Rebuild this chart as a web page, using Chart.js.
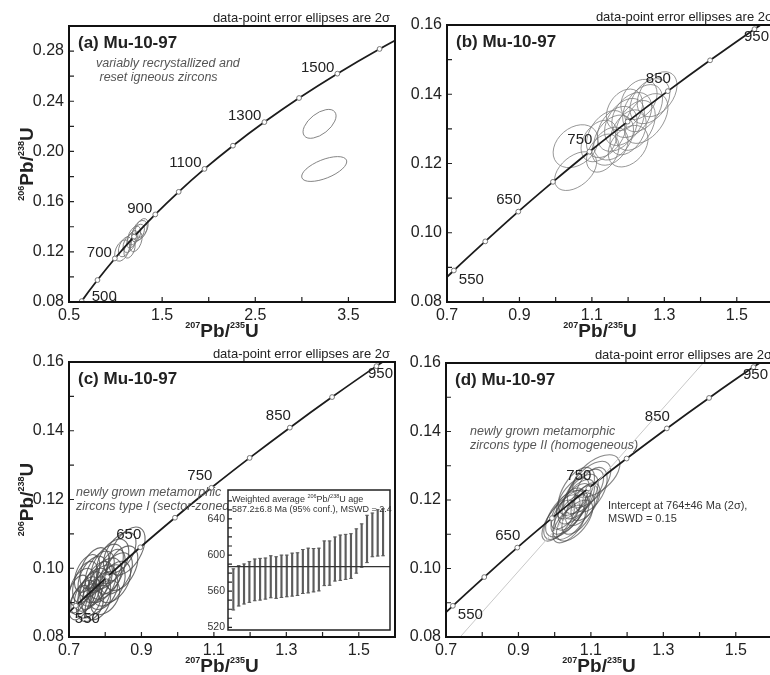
<!DOCTYPE html>
<html>
<head>
<meta charset="utf-8">
<title>Mu-10-97 U-Pb concordia diagrams</title>
<script src="https://cdn.jsdelivr.net/npm/chart.js@4.4.1/dist/chart.umd.min.js"></script>
<style>
  html, body { margin: 0; padding: 0; background: #fff; }
  #fig { position: relative; width: 770px; height: 675px; overflow: hidden; background: #fff; }
  #fig canvas { position: absolute; }
</style>
</head>
<body>
<div id="fig">
  <canvas id="pa" width="400" height="345" style="left:0px;top:0px"></canvas>
  <canvas id="pb" width="400" height="345" style="left:385px;top:0px"></canvas>
  <canvas id="pc" width="400" height="345" style="left:0px;top:330px"></canvas>
  <canvas id="pd" width="400" height="345" style="left:385px;top:330px"></canvas>
  <canvas id="pin" width="205" height="150" style="left:190px;top:485px"></canvas>
</div>
<script>
// ---------- concordia reference points (age in Ma, 207Pb/235U, 206Pb/238U) ----------
const agesWide = [400, 500, 600, 700, 800, 900, 1000, 1100, 1200, 1300, 1400, 1500, 1600, 1700];
const concXWide = [0.4828, 0.6363, 0.8056, 0.9925, 1.1987, 1.4263, 1.6774, 1.9545, 2.2603, 2.5977, 2.9701, 3.3810, 3.8344, 4.3348];
const concYWide = [0.0640, 0.0807, 0.0975, 0.1147, 0.1321, 0.1498, 0.1678, 0.1861, 0.2046, 0.2234, 0.2426, 0.2620, 0.2817, 0.3018];
const agesWideLabelled = [500, 700, 900, 1100, 1300, 1500];

const agesNarrow = [500, 550, 600, 650, 700, 750, 800, 850, 900, 950, 1000];
const concXNarrow = [0.6363, 0.7189, 0.8056, 0.8968, 0.9925, 1.0931, 1.1987, 1.3097, 1.4263, 1.5488, 1.6774];
const concYNarrow = [0.0807, 0.0891, 0.0975, 0.1061, 0.1147, 0.1234, 0.1321, 0.1409, 0.1498, 0.1588, 0.1678];
const agesNarrowLabelled = [550, 650, 750, 850, 950];

// ---------- tick labels ----------
const xTickLabelsWide = [0.5, 1.5, 2.5, 3.5];
const yTickLabelsWide = [0.08, 0.12, 0.16, 0.20, 0.24, 0.28];
const xTickLabelsNarrow = [0.7, 0.9, 1.1, 1.3, 1.5];
const yTickLabelsNarrow = [0.08, 0.10, 0.12, 0.14, 0.16];
const insetTickLabels = [520, 560, 600, 640];

// ---------- analyses: [207/235, 206/238, 2s half-width x, 2s half-width y, error correlation] ----------
const ellipsesA = [
  [1.07, 0.1210, 0.080, 0.0085, 0.40],
  [1.10, 0.1240, 0.070, 0.0080, 0.45],
  [1.15, 0.1270, 0.070, 0.0075, 0.45],
  [1.15, 0.1220, 0.060, 0.0070, 0.40],
  [1.18, 0.1300, 0.060, 0.0070, 0.50],
  [1.20, 0.1330, 0.070, 0.0075, 0.45],
  [1.22, 0.1280, 0.065, 0.0080, 0.45],
  [1.24, 0.1350, 0.070, 0.0070, 0.45],
  [1.26, 0.1370, 0.080, 0.0080, 0.40],
  [1.28, 0.1390, 0.070, 0.0075, 0.40],
  [3.19, 0.2220, 0.177, 0.0115, 0.55],
  [3.24, 0.1860, 0.242, 0.0099, 0.60]
];
const ellipsesB = [
  [1.055, 0.1250, 0.062, 0.0062, 0.30],
  [1.055, 0.1178, 0.058, 0.0056, 0.45],
  [1.120, 0.1265, 0.050, 0.0060, 0.35],
  [1.140, 0.1285, 0.055, 0.0068, 0.40],
  [1.160, 0.1275, 0.055, 0.0065, 0.35],
  [1.170, 0.1300, 0.055, 0.0065, 0.35],
  [1.150, 0.1250, 0.050, 0.0055, 0.30],
  [1.190, 0.1320, 0.055, 0.0068, 0.40],
  [1.200, 0.1290, 0.050, 0.0065, 0.40],
  [1.210, 0.1340, 0.055, 0.0065, 0.35],
  [1.220, 0.1310, 0.055, 0.0072, 0.40],
  [1.240, 0.1360, 0.055, 0.0068, 0.40],
  [1.250, 0.1330, 0.060, 0.0072, 0.45],
  [1.260, 0.1380, 0.055, 0.0065, 0.35],
  [1.280, 0.1400, 0.055, 0.0065, 0.40],
  [1.190, 0.1355, 0.050, 0.0060, 0.30],
  [1.230, 0.1385, 0.050, 0.0058, 0.30],
  [1.130, 0.1230, 0.045, 0.0055, 0.35],
  [1.200, 0.1250, 0.055, 0.0060, 0.35]
];
const ellipsesC = [
  [0.860, 0.1050, 0.050, 0.0070, 0.50],
  [0.845, 0.1000, 0.045, 0.0065, 0.45],
  [0.830, 0.0985, 0.045, 0.0060, 0.45],
  [0.815, 0.0990, 0.040, 0.0065, 0.50],
  [0.800, 0.0970, 0.045, 0.0060, 0.45],
  [0.790, 0.0955, 0.040, 0.0055, 0.45],
  [0.780, 0.0960, 0.040, 0.0060, 0.50],
  [0.770, 0.0945, 0.040, 0.0055, 0.45],
  [0.760, 0.0935, 0.035, 0.0055, 0.45],
  [0.750, 0.0925, 0.035, 0.0050, 0.45],
  [0.740, 0.0915, 0.035, 0.0050, 0.50],
  [0.730, 0.0900, 0.030, 0.0050, 0.45],
  [0.755, 0.0905, 0.035, 0.0050, 0.40],
  [0.775, 0.0920, 0.040, 0.0055, 0.40],
  [0.795, 0.0935, 0.040, 0.0055, 0.40],
  [0.810, 0.0950, 0.045, 0.0060, 0.45],
  [0.825, 0.0960, 0.045, 0.0060, 0.45],
  [0.765, 0.0975, 0.040, 0.0060, 0.45],
  [0.745, 0.0960, 0.035, 0.0060, 0.45],
  [0.735, 0.0945, 0.035, 0.0055, 0.45],
  [0.785, 0.0990, 0.040, 0.0060, 0.45],
  [0.805, 0.1005, 0.045, 0.0065, 0.45],
  [0.840, 0.1045, 0.045, 0.0060, 0.50],
  [0.760, 0.0890, 0.035, 0.0045, 0.40],
  [0.780, 0.0900, 0.035, 0.0050, 0.40],
  [0.800, 0.0915, 0.040, 0.0050, 0.40],
  [0.725, 0.0925, 0.030, 0.0055, 0.45],
  [0.750, 0.0985, 0.035, 0.0055, 0.45],
  [0.820, 0.1020, 0.045, 0.0065, 0.45],
  [0.770, 0.1000, 0.040, 0.0060, 0.45]
];
const ellipsesD = [
  [1.115, 0.1270, 0.065, 0.0062, 0.55],
  [1.095, 0.1245, 0.060, 0.0068, 0.60],
  [1.080, 0.1225, 0.055, 0.0065, 0.60],
  [1.070, 0.1210, 0.050, 0.0065, 0.60],
  [1.060, 0.1195, 0.050, 0.0065, 0.65],
  [1.050, 0.1180, 0.050, 0.0068, 0.65],
  [1.040, 0.1165, 0.050, 0.0065, 0.65],
  [1.030, 0.1160, 0.055, 0.0068, 0.60],
  [1.045, 0.1150, 0.050, 0.0065, 0.60],
  [1.055, 0.1140, 0.050, 0.0060, 0.60],
  [1.020, 0.1150, 0.050, 0.0065, 0.65],
  [1.035, 0.1175, 0.045, 0.0060, 0.65],
  [1.065, 0.1160, 0.045, 0.0060, 0.60],
  [1.075, 0.1185, 0.045, 0.0060, 0.60],
  [1.050, 0.1205, 0.045, 0.0060, 0.60],
  [1.010, 0.1140, 0.045, 0.0060, 0.65],
  [1.085, 0.1195, 0.040, 0.0055, 0.55],
  [1.100, 0.1230, 0.045, 0.0065, 0.50],
  [1.060, 0.1225, 0.050, 0.0070, 0.55],
  [1.040, 0.1130, 0.045, 0.0055, 0.60]
];

// discordia through the type II analyses
const discordiaX = [0.739, 1.410];
const discordiaY = [0.080, 0.160];

// weighted-average plot: 206Pb/238U ages with 2s error bars
const spotNo = [1, 2, 3, 4, 5, 6, 7, 8, 9, 10, 11, 12, 13, 14, 15, 16, 17, 18, 19, 20, 21, 22, 23, 24, 25, 26, 27, 28, 29];
const spotAgeLow = [539.2, 543.6, 545.8, 547.6, 549.4, 550.1, 551.2, 552.7, 552.0, 553.0, 553.8, 554.5, 555.2, 557.4, 558.1, 559.2, 560.3, 566.1, 566.5, 571.2, 571.9, 573.0, 574.1, 579.9, 586.5, 591.6, 598.1, 598.9, 599.2];
const spotAgeHigh = [584.7, 588.3, 590.1, 592.7, 595.6, 596.3, 596.7, 599.2, 598.1, 599.9, 599.9, 602.1, 602.5, 606.1, 607.6, 607.2, 607.6, 615.6, 615.6, 620.0, 622.1, 622.9, 623.6, 629.0, 634.5, 644.0, 646.5, 650.2, 651.2];
const meanAge = 587.2;

// ---------- drawing helpers ----------
const FAM = "'Liberation Sans', Arial, Helvetica, sans-serif";
Chart.defaults.font.family = FAM;
Chart.defaults.color = '#222';
Chart.defaults.animation = false;

const ISO_X = [['207', 1], ['Pb/', 0], ['235', 1], ['U', 0]];
const ISO_Y = [['206', 1], ['Pb/', 0], ['238', 1], ['U', 0]];

function isoText(ctx, parts, x, y, big, small) {
  const fb = `bold ${big}px ${FAM}`, fs = `bold ${small}px ${FAM}`;
  const widths = parts.map(p => { ctx.font = p[1] ? fs : fb; return ctx.measureText(p[0]).width; });
  const total = widths.reduce((s, w) => s + w, 0);
  let cx = x - total / 2;
  ctx.textAlign = 'left';
  ctx.textBaseline = 'alphabetic';
  parts.forEach((p, i) => {
    ctx.font = p[1] ? fs : fb;
    ctx.fillText(p[0], cx, p[1] ? y - big * 0.47 : y);
    cx += widths[i];
  });
}

function labelFilter(list, digits) {
  return v => list.some(t => Math.abs(t - v) < 1e-6) ? Number(v).toFixed(digits) : '';
}

function drawEllipses(chart, list, colour, width) {
  const { ctx, chartArea: a, scales: { x: xs, y: ys } } = chart;
  ctx.save();
  ctx.beginPath();
  ctx.rect(a.left, a.top, a.right - a.left, a.bottom - a.top);
  ctx.clip();
  ctx.strokeStyle = colour;
  ctx.lineWidth = width;
  list.forEach(([x, y, sx, sy, rho]) => {
    const cx = xs.getPixelForValue(x), cy = ys.getPixelForValue(y);
    const px = xs.getPixelForValue(x + sx) - cx;
    const py = ys.getPixelForValue(y + sy) - cy;
    const cxx = px * px, cyy = py * py, cxy = rho * px * py;
    const m = (cxx + cyy) / 2;
    const d = Math.sqrt(((cxx - cyy) / 2) ** 2 + cxy * cxy);
    const r1 = Math.sqrt(m + d), r2 = Math.sqrt(Math.max(m - d, 0.25));
    const th = 0.5 * Math.atan2(2 * cxy, cxx - cyy);
    ctx.beginPath();
    ctx.ellipse(cx, cy, r1, r2, th, 0, Math.PI * 2);
    ctx.stroke();
  });
  ctx.restore();
}

function inwardTicks(chart, len, axes) {
  const { ctx, chartArea: a, scales } = chart;
  ctx.save();
  ctx.strokeStyle = '#222';
  ctx.lineWidth = 1.2;
  ctx.beginPath();
  if (axes.includes('x')) {
    scales.x.ticks.forEach(t => {
      const p = scales.x.getPixelForValue(t.value);
      if (p > a.left + 2 && p < a.right - 2) { ctx.moveTo(p, a.bottom); ctx.lineTo(p, a.bottom - len); }
    });
  }
  if (axes.includes('y')) {
    scales.y.ticks.forEach(t => {
      const p = scales.y.getPixelForValue(t.value);
      if (p > a.top + 2 && p < a.bottom - 2) { ctx.moveTo(a.left, p); ctx.lineTo(a.left + len, p); }
    });
  }
  ctx.stroke();
  ctx.restore();
}

function panelDecor(o) {
  return {
    id: 'panelDecor',
    beforeDatasetsDraw(chart) {
      drawEllipses(chart, o.ellipses, o.ellColour, o.ellWidth);
    },
    afterDatasetsDraw(chart) {
      const { ctx, scales: { x: xs, y: ys } } = chart;
      ctx.save();
      ctx.font = `15px ${FAM}`;
      ctx.fillStyle = '#222';
      ctx.textBaseline = 'middle';
      o.labelled.forEach(age => {
        const i = o.ages.indexOf(age);
        const px = xs.getPixelForValue(o.cx[i]), py = ys.getPixelForValue(o.cy[i]);
        const p = o.place(age);
        ctx.textAlign = p[0];
        ctx.fillText(String(age), px + p[1], py + p[2]);
      });
      ctx.restore();
    },
    afterDraw(chart) {
      const { ctx, chartArea: a } = chart;
      inwardTicks(chart, 5, 'xy');
      ctx.save();
      ctx.strokeStyle = '#111';
      ctx.lineWidth = 2;
      ctx.strokeRect(a.left, a.top, a.right - a.left, a.bottom - a.top);

      // header note
      ctx.fillStyle = '#222';
      ctx.font = `13px ${FAM}`;
      ctx.textAlign = 'right';
      ctx.textBaseline = 'alphabetic';
      ctx.fillText('data-point error ellipses are 2\u03c3', a.right - o.headInset, a.top - 4);

      // panel title
      ctx.font = `bold 17px ${FAM}`;
      ctx.textAlign = 'left';
      ctx.textBaseline = 'middle';
      ctx.fillText(o.title, a.left + 9, a.top + 17);

      // italic annotation
      if (o.note) {
        ctx.fillStyle = '#555';
        ctx.font = `italic 12.5px ${FAM}`;
        o.note.lines.forEach((t, k) => ctx.fillText(t, a.left + o.note.dx, a.top + o.note.dy + k * 13.5));
      }
      // intercept result
      if (o.result) {
        ctx.fillStyle = '#333';
        ctx.font = `11px ${FAM}`;
        o.result.lines.forEach((t, k) => ctx.fillText(t, a.left + o.result.dx, a.top + o.result.dy + k * 12.5));
      }

      // axis titles
      ctx.fillStyle = '#222';
      isoText(ctx, ISO_X, (a.left + a.right) / 2 - 10, a.bottom + 35, 19, 9);
      if (o.yTitle) {
        ctx.translate(a.left - 36, (a.top + a.bottom) / 2);
        ctx.rotate(-Math.PI / 2);
        isoText(ctx, ISO_Y, 0, 0, 19, 9);
      }
      ctx.restore();
    }
  };
}

function concordiaPanel(o) {
  const datasets = [];
  if (o.discordia) {
    datasets.push({
      data: o.discordia.x.map((v, i) => ({ x: v, y: o.discordia.y[i] })),
      showLine: true, borderColor: '#c8c8c8', borderWidth: 1, pointRadius: 0, clip: 0
    });
  }
  datasets.push({
    data: o.ages.map((a, i) => ({ x: o.cx[i], y: o.cy[i] })),
    showLine: true, borderColor: '#1c1c1c', borderWidth: 1.8, cubicInterpolationMode: 'monotone',
    pointRadius: 2.4, pointBackgroundColor: '#fff', pointBorderColor: '#777', pointBorderWidth: 1, clip: 0
  });
  return new Chart(document.getElementById(o.id), {
    type: 'scatter',
    data: { datasets },
    options: {
      responsive: false, animation: false, devicePixelRatio: 1,
      events: [],
      layout: { padding: { left: 0, top: o.padTop, right: o.padRight, bottom: 0 } },
      plugins: { legend: { display: false }, tooltip: { enabled: false } },
      scales: {
        x: {
          type: 'linear', min: o.x.min, max: o.x.max,
          grid: { display: false, drawTicks: false }, border: { display: false },
          ticks: { stepSize: o.x.step, autoSkip: false, includeBounds: false, maxRotation: 0, padding: 4,
                   font: { size: 16 }, color: '#222', callback: labelFilter(o.x.labels, o.x.digits) },
          afterFit: s => { s.height = o.xh; }
        },
        y: {
          type: 'linear', min: o.y.min, max: o.y.max,
          grid: { display: false, drawTicks: false }, border: { display: false },
          ticks: { stepSize: o.y.step, autoSkip: false, includeBounds: false, padding: 5,
                   font: { size: 16 }, color: '#222', callback: labelFilter(o.y.labels, o.y.digits) },
          afterFit: s => { s.width = o.yw; }
        }
      }
    },
    plugins: [panelDecor(o)]
  });
}

const placeWide = age => age === 500 ? ['left', 10, -4] : ['right', -3, -6];
const placeNarrow = age => {
  if (age === 550) return ['left', 5, 9];
  if (age === 950) return ['center', 2, 8];
  return ['right', 3, -12];
};
const placeNarrowC = age => {
  if (age === 550) return ['left', -1, 13];
  if (age === 950) return ['center', 4, 8];
  return ['right', 1, -12];
};

const wideX = { min: 0.5, max: 4.0, step: 0.5, labels: xTickLabelsWide, digits: 1 };
const wideY = { min: 0.08, max: 0.30, step: 0.02, labels: yTickLabelsWide, digits: 2 };
const narrowX = { min: 0.7, max: 1.6, step: 0.1, labels: xTickLabelsNarrow, digits: 1 };
const narrowY = { min: 0.08, max: 0.16, step: 0.01, labels: yTickLabelsNarrow, digits: 2 };

// (a) variably recrystallized zircons
concordiaPanel({
  id: 'pa', x: wideX, y: wideY, yw: 69, xh: 43, padTop: 26, padRight: 5, headInset: 5,
  ages: agesWide, cx: concXWide, cy: concYWide, labelled: agesWideLabelled, place: placeWide,
  ellipses: ellipsesA, ellColour: 'rgba(120,120,120,0.9)', ellWidth: 1,
  title: '(a) Mu-10-97', yTitle: true,
  note: { lines: ['variably recrystallized and', ' reset igneous zircons'], dx: 27, dy: 38 }
});

// (b) all analyses, zoomed
concordiaPanel({
  id: 'pb', x: narrowX, y: narrowY, yw: 62, xh: 43, padTop: 25, padRight: 12, headInset: 0,
  ages: agesNarrow, cx: concXNarrow, cy: concYNarrow, labelled: agesNarrowLabelled, place: placeNarrow,
  ellipses: ellipsesB, ellColour: 'rgba(125,125,125,0.8)', ellWidth: 1,
  title: '(b) Mu-10-97', yTitle: false
});

// (c) type I metamorphic zircons
concordiaPanel({
  id: 'pc', x: narrowX, y: narrowY, yw: 69, xh: 38, padTop: 32, padRight: 5, headInset: 5,
  ages: agesNarrow, cx: concXNarrow, cy: concYNarrow, labelled: agesNarrowLabelled, place: placeNarrowC,
  ellipses: ellipsesC, ellColour: 'rgba(75,75,75,0.8)', ellWidth: 1.1,
  title: '(c) Mu-10-97', yTitle: true,
  note: { lines: ['newly grown metamorphic', 'zircons type I (sector-zoned)'], dx: 7, dy: 131 }
});

// (d) type II metamorphic zircons with discordia
concordiaPanel({
  id: 'pd', x: narrowX, y: narrowY, yw: 61, xh: 38, padTop: 33, padRight: 13, headInset: 0,
  ages: agesNarrow, cx: concXNarrow, cy: concYNarrow, labelled: agesNarrowLabelled, place: placeNarrow,
  ellipses: ellipsesD, ellColour: 'rgba(70,70,70,0.65)', ellWidth: 1.1,
  discordia: { x: discordiaX, y: discordiaY },
  title: '(d) Mu-10-97', yTitle: false,
  note: { lines: ['newly grown metamorphic', 'zircons type II (homogeneous)'], dx: 24, dy: 69 },
  result: { lines: ['Intercept at 764\u00b146 Ma (2\u03c3),', 'MSWD = 0.15'], dx: 162, dy: 143 }
});

// inset: weighted average of 206Pb/238U ages
const insetDecor = {
  id: 'insetDecor',
  beforeDraw(chart) {
    const { ctx, chartArea: a } = chart;
    ctx.save();
    ctx.fillStyle = '#fff';
    ctx.fillRect(a.left, a.top, a.right - a.left, a.bottom - a.top);
    ctx.restore();
  },
  afterDraw(chart) {
    const { ctx, chartArea: a, scales: { y: ys } } = chart;
    inwardTicks(chart, 4, 'y');
    ctx.save();
    const my = ys.getPixelForValue(meanAge);
    ctx.strokeStyle = '#333';
    ctx.lineWidth = 1.4;
    ctx.beginPath();
    ctx.moveTo(a.left, my);
    ctx.lineTo(a.right, my);
    ctx.stroke();
    ctx.strokeStyle = '#222';
    ctx.lineWidth = 1.5;
    ctx.strokeRect(a.left, a.top, a.right - a.left, a.bottom - a.top);

    // age axis labels
    ctx.fillStyle = '#333';
    ctx.font = `10.5px ${FAM}`;
    ctx.textAlign = 'right';
    ctx.textBaseline = 'middle';
    insetTickLabels.forEach(v => ctx.fillText(String(v), a.left - 3, ys.getPixelForValue(v)));

    ctx.textBaseline = 'alphabetic';
    ctx.textAlign = 'left';
    let x = a.left + 4;
    const y1 = a.top + 12;
    const seg = [['Weighted average ', 9, 0], ['206', 5.5, 1], ['Pb/', 9, 0], ['238', 5.5, 1], ['U age', 9, 0]];
    seg.forEach(([t, sz, sup]) => {
      ctx.font = `${sz}px ${FAM}`;
      ctx.fillText(t, x, sup ? y1 - 4 : y1);
      x += ctx.measureText(t).width;
    });
    ctx.font = `9px ${FAM}`;
    ctx.fillText('587.2\u00b16.8 Ma (95% conf.), MSWD = 2.4', a.left + 4, y1 + 9.5);
    ctx.restore();
  }
};

new Chart(document.getElementById('pin'), {
  type: 'bar',
  data: {
    datasets: [
      {
        type: 'bar',
        data: spotNo.map((n, i) => ({ x: n, y: [spotAgeLow[i], spotAgeHigh[i]] })),
        backgroundColor: '#5c5c5c', borderWidth: 0, barThickness: 1.5
      },
      {
        type: 'line', showLine: false,
        data: spotNo.flatMap((n, i) => [{ x: n, y: spotAgeLow[i] }, { x: n, y: spotAgeHigh[i] }]),
        pointStyle: 'line', pointRadius: 1.8, pointBorderColor: '#5c5c5c', pointBorderWidth: 1
      }
    ]
  },
  options: {
    responsive: false, animation: false, devicePixelRatio: 1, events: [],
    layout: { padding: { left: 0, top: 5, right: 4, bottom: 1 } },
    plugins: { legend: { display: false }, tooltip: { enabled: false } },
    scales: {
      x: { type: 'linear', min: 0, max: 30.3, display: false, offset: false },
      y: {
        type: 'linear', min: 517, max: 672,
        grid: { display: false, drawTicks: false }, border: { display: false },
        ticks: { display: false, stepSize: 10, autoSkip: false, includeBounds: false },
        afterFit: s => { s.width = 38; }
      }
    }
  },
  plugins: [insetDecor]
});
</script>
</body>
</html>
